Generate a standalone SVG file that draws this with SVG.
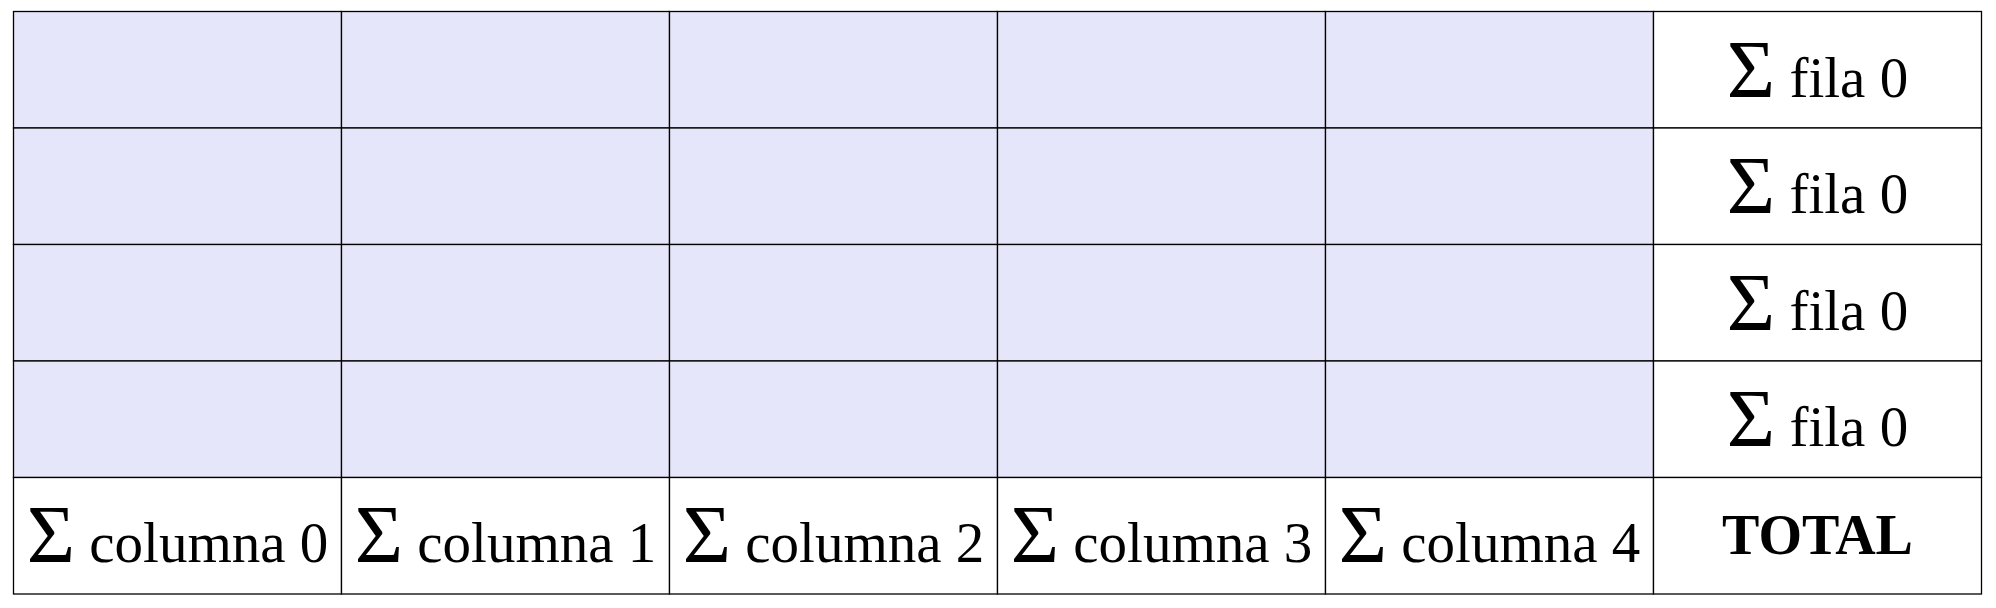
<svg xmlns="http://www.w3.org/2000/svg" width="1996" height="608" viewBox="0 0 1996 608">
<style>
.bg{fill:#ffffff}
.c{fill:#e6e6fa;stroke:#000;stroke-width:1.3}
.s{fill:#ffffff;stroke:#000;stroke-width:1.3}
.t{font-family:"Liberation Serif","Times New Roman",serif;font-size:57px;fill:#000;text-anchor:middle}
.sig{font-size:83px}
.b{font-weight:bold;font-size:56px}
</style>
<rect class="bg" x="0" y="0" width="1996" height="608"/>
<g id="r0c0"><rect class="c" x="13.5" y="11.5" width="328" height="116.5"/></g>
<g id="r0c1"><rect class="c" x="341.5" y="11.5" width="328" height="116.5"/></g>
<g id="r0c2"><rect class="c" x="669.5" y="11.5" width="328" height="116.5"/></g>
<g id="r0c3"><rect class="c" x="997.5" y="11.5" width="328" height="116.5"/></g>
<g id="r0c4"><rect class="c" x="1325.5" y="11.5" width="328" height="116.5"/></g>
<g id="r1c0"><rect class="c" x="13.5" y="128" width="328" height="116.5"/></g>
<g id="r1c1"><rect class="c" x="341.5" y="128" width="328" height="116.5"/></g>
<g id="r1c2"><rect class="c" x="669.5" y="128" width="328" height="116.5"/></g>
<g id="r1c3"><rect class="c" x="997.5" y="128" width="328" height="116.5"/></g>
<g id="r1c4"><rect class="c" x="1325.5" y="128" width="328" height="116.5"/></g>
<g id="r2c0"><rect class="c" x="13.5" y="244.5" width="328" height="116.5"/></g>
<g id="r2c1"><rect class="c" x="341.5" y="244.5" width="328" height="116.5"/></g>
<g id="r2c2"><rect class="c" x="669.5" y="244.5" width="328" height="116.5"/></g>
<g id="r2c3"><rect class="c" x="997.5" y="244.5" width="328" height="116.5"/></g>
<g id="r2c4"><rect class="c" x="1325.5" y="244.5" width="328" height="116.5"/></g>
<g id="r3c0"><rect class="c" x="13.5" y="361" width="328" height="116.5"/></g>
<g id="r3c1"><rect class="c" x="341.5" y="361" width="328" height="116.5"/></g>
<g id="r3c2"><rect class="c" x="669.5" y="361" width="328" height="116.5"/></g>
<g id="r3c3"><rect class="c" x="997.5" y="361" width="328" height="116.5"/></g>
<g id="r3c4"><rect class="c" x="1325.5" y="361" width="328" height="116.5"/></g>
<g id="sumrow0"><rect class="s" x="1653.5" y="11.5" width="328" height="116.5"/><text class="t" x="1817.5" y="96.5"><tspan class="sig">Σ</tspan> fila 0</text></g>
<g id="sumrow1"><rect class="s" x="1653.5" y="128" width="328" height="116.5"/><text class="t" x="1817.5" y="213"><tspan class="sig">Σ</tspan> fila 0</text></g>
<g id="sumrow2"><rect class="s" x="1653.5" y="244.5" width="328" height="116.5"/><text class="t" x="1817.5" y="329.5"><tspan class="sig">Σ</tspan> fila 0</text></g>
<g id="sumrow3"><rect class="s" x="1653.5" y="361" width="328" height="116.5"/><text class="t" x="1817.5" y="446"><tspan class="sig">Σ</tspan> fila 0</text></g>
<g id="sumcol0"><rect class="s" x="13.5" y="477.5" width="328" height="116.5"/><text class="t" x="177.5" y="561.5"><tspan class="sig">Σ</tspan> columna 0</text></g>
<g id="sumcol1"><rect class="s" x="341.5" y="477.5" width="328" height="116.5"/><text class="t" x="505.5" y="561.5"><tspan class="sig">Σ</tspan> columna 1</text></g>
<g id="sumcol2"><rect class="s" x="669.5" y="477.5" width="328" height="116.5"/><text class="t" x="833.5" y="561.5"><tspan class="sig">Σ</tspan> columna 2</text></g>
<g id="sumcol3"><rect class="s" x="997.5" y="477.5" width="328" height="116.5"/><text class="t" x="1161.5" y="561.5"><tspan class="sig">Σ</tspan> columna 3</text></g>
<g id="sumcol4"><rect class="s" x="1325.5" y="477.5" width="328" height="116.5"/><text class="t" x="1489.5" y="561.5"><tspan class="sig">Σ</tspan> columna 4</text></g>
<g id="total"><rect class="s" x="1653.5" y="477.5" width="328" height="116.5"/><text class="t b" x="1817.5" y="553.5">TOTAL</text></g>
<g id="connectors"></g>
</svg>
